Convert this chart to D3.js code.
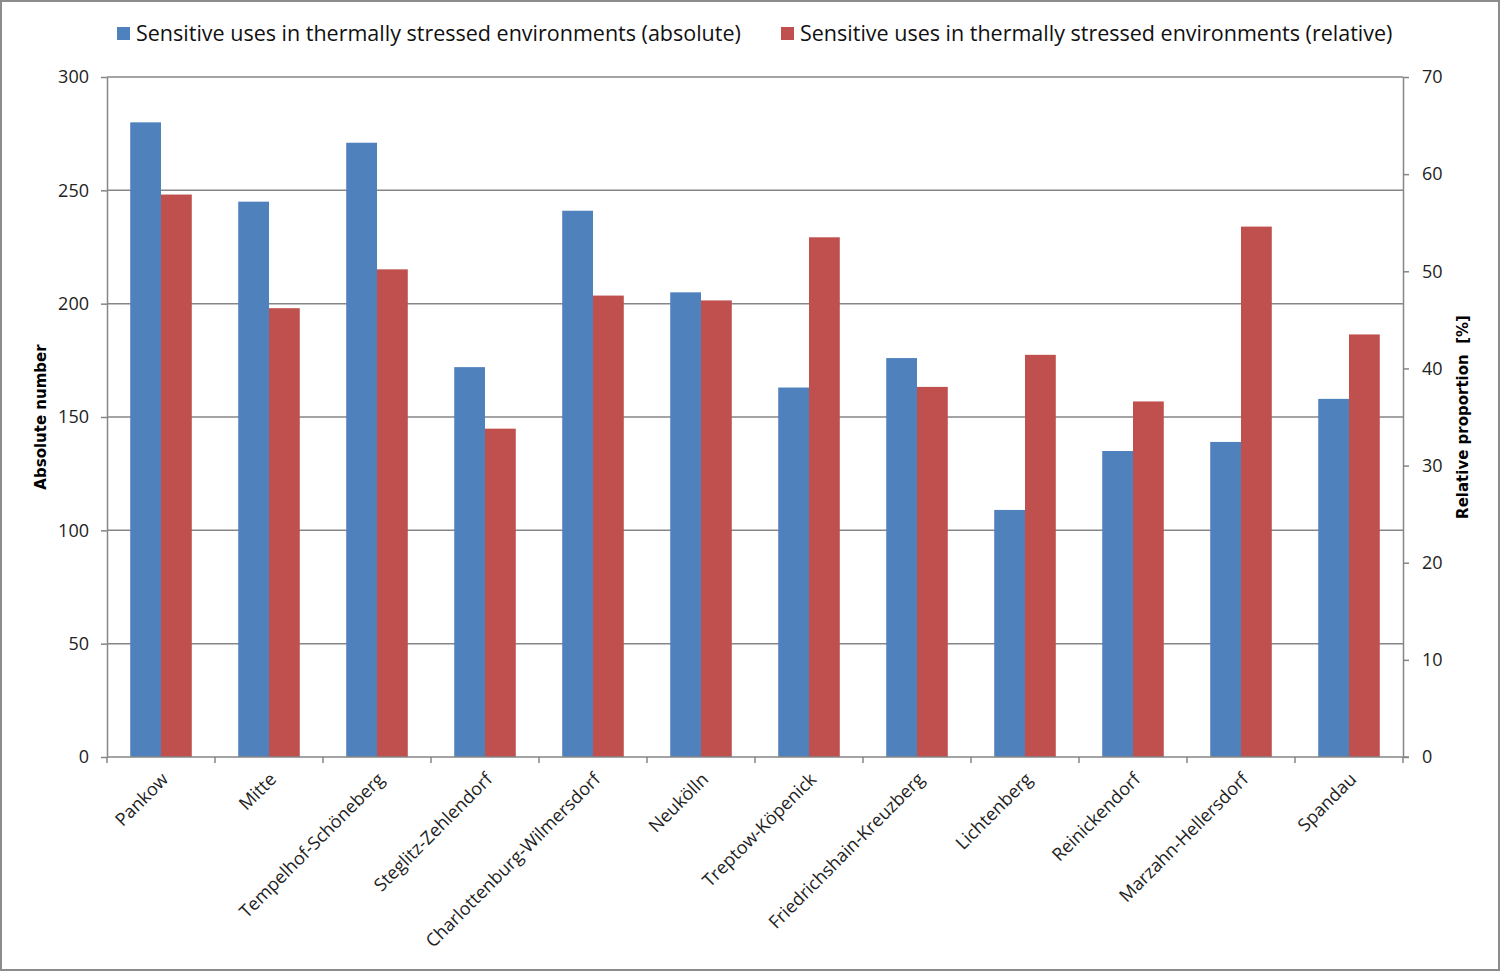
<!DOCTYPE html>
<html>
<head>
<meta charset="utf-8">
<script src="https://cdn.jsdelivr.net/npm/d3@7"></script>
<style>
  body { margin: 0; background: #fff; }
  svg { display: block; font-family: "Open Sans", Lato, sans-serif; }
</style>
</head>
<body>
<svg id="svg"></svg>
<script>
// data
let districts = ["Pankow", "Mitte", "Tempelhof-Schöneberg", "Steglitz-Zehlendorf",
  "Charlottenburg-Wilmersdorf", "Neukölln", "Treptow-Köpenick", "Friedrichshain-Kreuzberg",
  "Lichtenberg", "Reinickendorf", "Marzahn-Hellersdorf", "Spandau"];
let absoluteValues = [280, 245, 271, 172, 241, 205, 163, 176, 109, 135, 139, 158];
let relativeValues = [57.9, 46.2, 50.2, 33.8, 47.5, 47.0, 53.5, 38.1, 41.4, 36.6, 54.6, 43.5];
let leftTicks = [0, 50, 100, 150, 200, 250, 300];
let rightTicks = [0, 10, 20, 30, 40, 50, 60, 70];
let seriesNames = ["Sensitive uses in thermally stressed environments (absolute)",
  "Sensitive uses in thermally stressed environments (relative)"];

let width = 1500;
let height = 971;
let plotLeft = 107, plotRight = 1403, plotTop = 77, plotBottom = 757;
let blue = "#4f81bd", red = "#c0504d", axisColor = "#868686";

let svg = d3.select("#svg").attr("width", width).attr("height", height);

// outer frame
svg.append("rect")
  .attr("x", 1).attr("y", 1)
  .attr("width", width - 2).attr("height", height - 2)
  .attr("fill", "#fff").attr("stroke", "#8c8c8c").attr("stroke-width", 2);

let xScale = d3.scaleBand().domain(districts).range([plotLeft, plotRight]).paddingInner(0.43).paddingOuter(0.215);
let yLeft = d3.scaleLinear().domain([0, 300]).range([plotBottom, plotTop]);
let yRight = d3.scaleLinear().domain([0, 70]).range([plotBottom, plotTop]);
let inner = d3.scaleBand().domain([0, 1]).range([0, xScale.bandwidth()]);

// gridlines
svg.append("g").selectAll("line")
  .data(leftTicks.slice(1))
  .enter().append("line")
  .attr("x1", plotLeft).attr("x2", plotRight)
  .attr("y1", d => yLeft(d)).attr("y2", d => yLeft(d))
  .attr("stroke", axisColor).attr("stroke-width", 1.5);

// bars
svg.append("g").selectAll("rect")
  .data(absoluteValues)
  .enter().append("rect")
  .attr("x", (d, i) => xScale(districts[i]) + inner(0))
  .attr("y", d => yLeft(d))
  .attr("width", inner.bandwidth())
  .attr("height", d => plotBottom - yLeft(d))
  .attr("fill", blue);

svg.append("g").selectAll("rect")
  .data(relativeValues)
  .enter().append("rect")
  .attr("x", (d, i) => xScale(districts[i]) + inner(1))
  .attr("y", d => yRight(d))
  .attr("width", inner.bandwidth())
  .attr("height", d => plotBottom - yRight(d))
  .attr("fill", red);

// axes
let styleAxis = (g) => {
  g.select(".domain").attr("stroke", axisColor).attr("stroke-width", 1.5);
  g.selectAll(".tick line").attr("stroke", axisColor).attr("stroke-width", 1.5);
  g.selectAll(".tick text").attr("fill", "#222").style("font-size", "18px")
    .style("font-family", "'Open Sans', Lato, sans-serif");
};

let yAxisL = d3.axisLeft(yLeft).tickValues(leftTicks).tickSize(6).tickSizeOuter(0).tickPadding(12);
svg.append("g").attr("transform", "translate(" + plotLeft + ",0)").call(yAxisL).call(styleAxis);

let yAxisR = d3.axisRight(yRight).tickValues(rightTicks).tickSize(6).tickSizeOuter(0).tickPadding(13);
svg.append("g").attr("transform", "translate(" + plotRight + ",0)").call(yAxisR).call(styleAxis);

// x axis with tick marks between categories
let xAxisG = svg.append("g");
xAxisG.append("line")
  .attr("x1", plotLeft).attr("x2", plotRight + 6).attr("y1", plotBottom).attr("y2", plotBottom)
  .attr("stroke", axisColor).attr("stroke-width", 1.5);
let step = xScale.step();
xAxisG.selectAll("line.sep")
  .data(d3.range(districts.length + 1))
  .enter().append("line")
  .attr("class", "sep")
  .attr("x1", i => plotLeft + i * step).attr("x2", i => plotLeft + i * step)
  .attr("y1", plotBottom).attr("y2", plotBottom + 6)
  .attr("stroke", axisColor).attr("stroke-width", 1.5);

xAxisG.selectAll("text")
  .data(districts)
  .enter().append("text")
  .attr("transform", d => "translate(" + (xScale(d) + xScale.bandwidth() / 2 + 4) + "," + (plotBottom + 19) + ") rotate(-45)")
  .attr("text-anchor", "end")
  .attr("dy", "0.35em")
  .attr("fill", "#222")
  .style("font-size", "18px")
  .text(d => d);

// axis titles
svg.append("text")
  .attr("transform", "translate(46," + ((plotTop + plotBottom) / 2) + ") rotate(-90)")
  .attr("text-anchor", "middle")
  .style("font-size", "15px").style("font-weight", "bold")
  .style("font-family", "'DejaVu Sans', sans-serif")
  .attr("fill", "#000")
  .text("Absolute number");

svg.append("text")
  .attr("transform", "translate(1468," + ((plotTop + plotBottom) / 2) + ") rotate(-90)")
  .attr("text-anchor", "middle")
  .style("font-size", "15px").style("font-weight", "bold")
  .style("font-family", "'DejaVu Sans', sans-serif")
  .style("white-space", "pre")
  .attr("fill", "#000")
  .text("Relative proportion  [%]");

// legend
let legendX = [117, 781];
let legend = svg.append("g").selectAll("g")
  .data(seriesNames)
  .enter().append("g")
  .attr("transform", (d, i) => "translate(" + legendX[i] + ",27)");
legend.append("rect")
  .attr("width", 13).attr("height", 13)
  .attr("fill", (d, i) => i === 0 ? blue : red);
legend.append("text")
  .attr("x", 19).attr("y", 14)
  .style("font-size", "21.5px")
  .attr("fill", "#111")
  .text(d => d);
</script>
</body>
</html>
